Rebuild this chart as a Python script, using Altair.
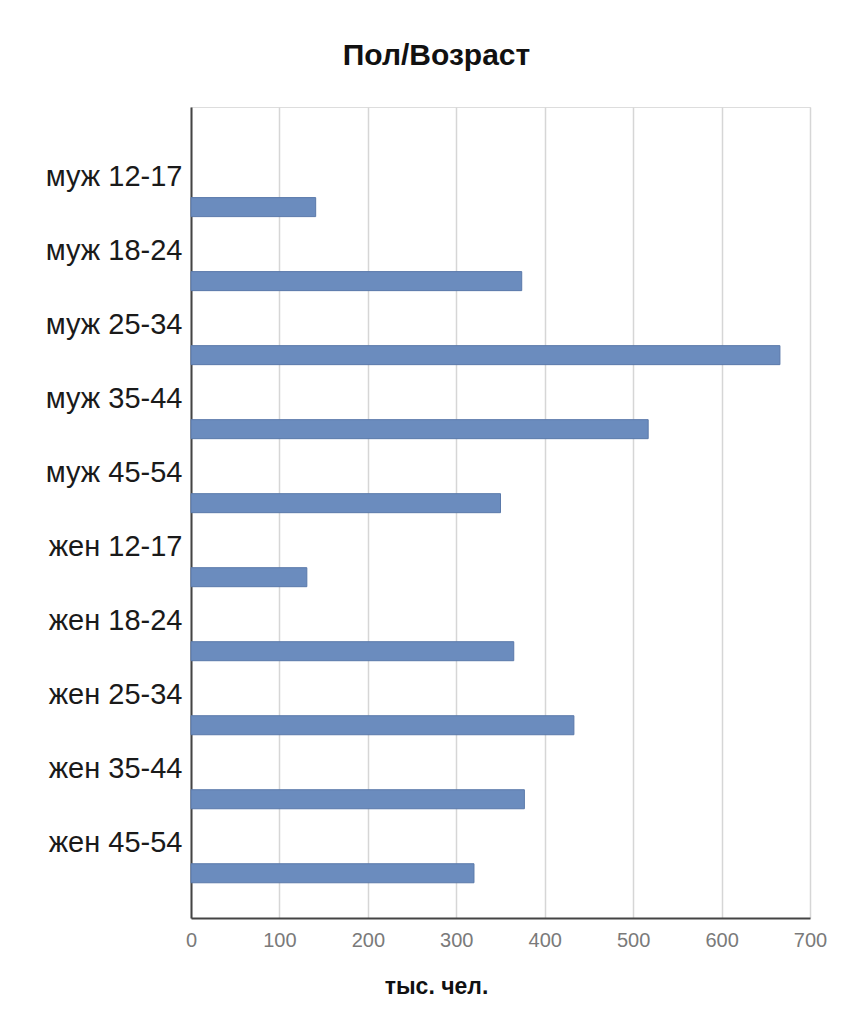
import altair as alt
import pandas as pd

categories = ["муж 12-17", "муж 18-24", "муж 25-34", "муж 35-44", "муж 45-54",
              "жен 12-17", "жен 18-24", "жен 25-34", "жен 35-44", "жен 45-54"]
values = [141, 374, 666, 517, 350, 131, 365, 433, 377, 320]
x_ticks = [0, 100, 200, 300, 400, 500, 600, 700]

df = pd.DataFrame({"group": categories, "value": values})

FONT = "Liberation Sans"

chart = alt.Chart(df).mark_bar(
    color="#6B8CBE", stroke="#5A79AA", strokeWidth=1
).encode(
    x=alt.X("value:Q",
            scale=alt.Scale(domain=[0, 700], nice=False, zero=True),
            axis=alt.Axis(values=x_ticks, title="тыс. чел.", ticks=False,
                          labelFont=FONT, labelFontSize=20, labelColor="#7a7a7a",
                          labelPadding=12, labelFlush=False,
                          titleFont=FONT, titleFontSize=23, titleFontWeight="bold",
                          titleColor="#111111", titleX=245, titleY=75,
                          titleAlign="center", titleBaseline="alphabetic",
                          grid=True, gridColor="#d6d6d6", gridWidth=1.5,
                          domainColor="#444444", domainWidth=2)),
    y=alt.Y("group:N", sort=categories,
            scale=alt.Scale(paddingInner=0.743, paddingOuter=0.85, align=0.72),
            axis=alt.Axis(title=None, ticks=False, labelOffset=-30,
                          labelFont=FONT, labelFontSize=29, labelColor="#1a1a1a",
                          labelPadding=9, labelBaseline="middle",
                          grid=False, domainColor="#444444", domainWidth=2)),
).properties(
    width=619,
    height=811,
    title=alt.TitleParams("Пол/Возраст", font=FONT, fontSize=30, fontWeight="bold",
                          color="#111111", anchor="middle", frame="group",
                          dx=-64, offset=12, baseline="alphabetic"),
    padding={"left": 183, "top": 99, "right": 25, "bottom": 90},
    autosize="none",
).configure_view(stroke=None).configure(background="white")

chart.save("out.html", embed_options={"renderer": "svg", "actions": False})
